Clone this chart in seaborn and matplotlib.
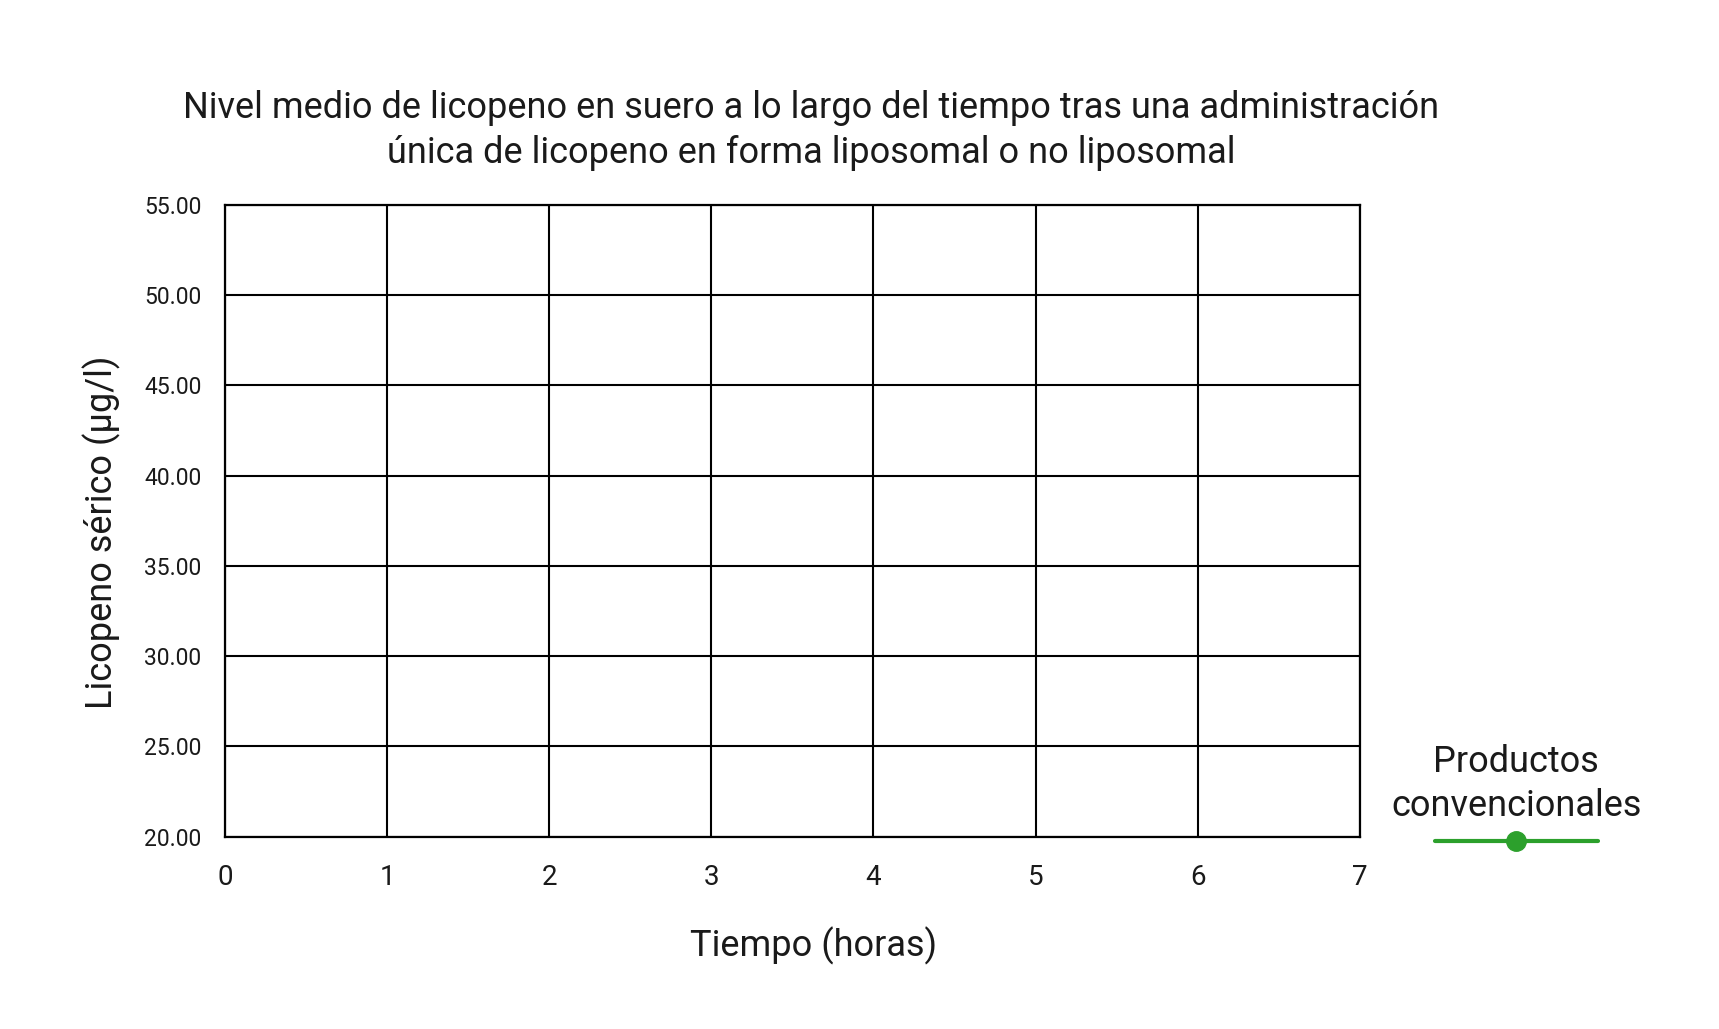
import matplotlib
matplotlib.use("Agg")
import matplotlib.pyplot as plt
from matplotlib.lines import Line2D
import pandas as pd
import seaborn as sns

# data: the series has no points shown in the chart
serie = "Productos convencionales"
horas = []
licopeno = []

x_ticks = [0, 1, 2, 3, 4, 5, 6, 7]
y_ticks = [20, 25, 30, 35, 40, 45, 50, 55]

verde = "#2ca02c"
texto = "#1a1a1a"

sns.set_theme(style="white")
plt.rcParams["font.family"] = ["Roboto", "DejaVu Sans"]

fig = plt.figure(figsize=(17.19, 10.29), dpi=100)
ax = fig.add_axes([0.131, 0.187, 0.66, 0.614])

df = pd.DataFrame({"horas": pd.Series(horas, dtype=float),
                   "licopeno": pd.Series(licopeno, dtype=float)})
sns.lineplot(data=df, x="horas", y="licopeno", color=verde, marker="o",
             linewidth=3, markersize=14, ax=ax)

ax.set_xlim(0, 7)
ax.set_ylim(20, 55)
ax.set_xticks(x_ticks)
ax.set_yticks(y_ticks)
ax.set_yticklabels([f"{v:.2f}" for v in y_ticks])
ax.grid(True, color="black", linewidth=1.5)
for s in ax.spines.values():
    s.set_visible(True)
    s.set_color("black")
    s.set_linewidth(1.6)
ax.tick_params(axis="x", length=0, pad=20, labelsize=20, labelcolor=texto)
ax.tick_params(axis="y", length=0, pad=17, labelsize=16.5, labelcolor=texto)

ax.set_xlabel("Tiempo (horas)", fontsize=26, color=texto)
ax.set_ylabel("Licopeno sérico (µg/l)", fontsize=26, color=texto)
ax.xaxis.set_label_coords(0.519, -0.143)
ax.yaxis.set_label_coords(-0.092, 0.481)

fig.text(0.472, 0.873,
         "Nivel medio de licopeno en suero a lo largo del tiempo tras una administración\n"
         "única de licopeno en forma liposomal o no liposomal",
         ha="center", va="center", fontsize=26, linespacing=1.3, color=texto)

handle = Line2D([], [], color=verde, marker="o", linewidth=3, markersize=14)
leg = ax.legend([handle], [""], title="Productos\nconvencionales",
                loc="upper center", bbox_to_anchor=(1.138, 0.162), frameon=False,
                handlelength=8.4, handletextpad=0, borderpad=0,
                title_fontsize=26, fontsize=14)
leg.get_title().set_color(texto)
leg.get_title().set_multialignment("center")
leg.get_title().set_linespacing(1.3)

fig.savefig("out.png", dpi=100)
